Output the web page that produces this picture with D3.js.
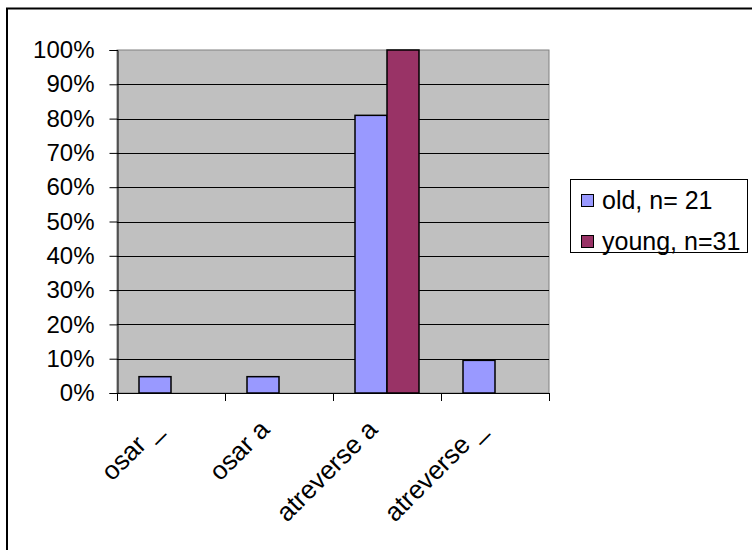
<!DOCTYPE html>
<html>
<head>
<meta charset="utf-8">
<script src="https://cdn.jsdelivr.net/npm/d3@7"></script>
<style>
  html, body { margin: 0; padding: 0; background: #fff; }
  svg { display: block; font-family: "Liberation Sans", Arial, sans-serif; }
</style>
</head>
<body>
<svg id="chart" width="752" height="550"></svg>
<script>
// Share of each construction by speaker group (percent)
const categories = ["osar _", "osar a", "atreverse a", "atreverse _"];
const seriesNames = ["old, n= 21", "young, n=31"];
const oldValues = [4.76, 4.76, 80.95, 9.52];
const youngValues = [0, 0, 100, 0];
const yTicks = [0, 10, 20, 30, 40, 50, 60, 70, 80, 90, 100];
const seriesColors = ["#9999FF", "#993366"];

const svg = d3.select("#chart");

// outer chart frame (continues past the right and bottom edges)
svg.append("rect")
  .attr("x", 7).attr("y", 8.5)
  .attr("width", 800).attr("height", 600)
  .attr("fill", "#fff")
  .attr("stroke", "#000").attr("stroke-width", 2);

const plot = { left: 117, right: 549, top: 50, bottom: 393 };

const x = d3.scaleBand().domain(categories).range([plot.left, plot.right]);
const x1 = d3.scaleBand().domain(seriesNames).range([0, x.bandwidth()]).paddingOuter(0.6875);
const y = d3.scaleLinear().domain([0, 100]).range([plot.bottom, plot.top]);

// plot background
svg.append("rect")
  .attr("x", plot.left).attr("y", plot.top)
  .attr("width", plot.right - plot.left).attr("height", plot.bottom - plot.top)
  .attr("fill", "#C0C0C0")
  .attr("stroke", "#808080").attr("stroke-width", 1);

// horizontal gridlines
svg.append("g")
  .selectAll("line")
  .data(yTicks.filter(t => t > 0 && t < 100))
  .join("line")
  .attr("x1", plot.left).attr("x2", plot.right)
  .attr("y1", d => Math.round(y(d)) + 0.5).attr("y2", d => Math.round(y(d)) + 0.5)
  .attr("stroke", "#000").attr("stroke-width", 1);

// bars
const table = categories.map((c, i) => ({
  category: c,
  values: [
    { series: seriesNames[0], value: oldValues[i], color: seriesColors[0] },
    { series: seriesNames[1], value: youngValues[i], color: seriesColors[1] }
  ]
}));

svg.append("g")
  .selectAll("g")
  .data(table)
  .join("g")
  .attr("transform", d => `translate(${x(d.category)},0)`)
  .selectAll("rect")
  .data(d => d.values.filter(v => v.value > 0))
  .join("rect")
  .attr("x", d => x1(d.series))
  .attr("y", d => y(d.value))
  .attr("width", x1.bandwidth())
  .attr("height", d => y(0) - y(d.value))
  .attr("fill", d => d.color)
  .attr("stroke", "#000").attr("stroke-width", 1.5);

// y axis
const yAxis = svg.append("g")
  .attr("transform", `translate(${plot.left + 0.5},0)`)
  .call(d3.axisLeft(y).tickValues(yTicks).tickFormat(d => d + "%").tickSize(8).tickPadding(15));
yAxis.select(".domain").attr("stroke", "#000");
yAxis.selectAll(".tick line").attr("stroke", "#000");
yAxis.selectAll("text")
  .attr("font-size", 24)
  .attr("font-family", "Liberation Sans, Arial, sans-serif")
  .attr("fill", "#000");

// x axis line with ticks at category boundaries
const xAxis = svg.append("g");
xAxis.append("line")
  .attr("x1", plot.left).attr("x2", plot.right)
  .attr("y1", plot.bottom + 0.5).attr("y2", plot.bottom + 0.5)
  .attr("stroke", "#000");
const boundaries = categories.map(c => x(c)).concat([x(categories[categories.length - 1]) + x.bandwidth()]);
xAxis.selectAll("line.tick")
  .data(boundaries)
  .join("line")
  .attr("class", "tick")
  .attr("x1", d => Math.round(d) + 0.5).attr("x2", d => Math.round(d) + 0.5)
  .attr("y1", plot.bottom).attr("y2", plot.bottom + 8)
  .attr("stroke", "#000");

// rotated category labels
xAxis.selectAll("text")
  .data(categories)
  .join("text")
  .attr("transform", d => `translate(${x(d) + x.bandwidth() / 2 - 8},${plot.bottom + 38}) rotate(-45)`)
  .attr("text-anchor", "end")
  .attr("font-size", 26)
  .attr("fill", "#000")
  .text(d => d);

// legend
const legend = svg.append("g");
legend.append("rect")
  .attr("x", 570.5).attr("y", 179.5)
  .attr("width", 177).attr("height", 73)
  .attr("fill", "#fff").attr("stroke", "#000").attr("stroke-width", 1);
const rows = legend.selectAll("g.row")
  .data(seriesNames)
  .join("g")
  .attr("class", "row")
  .attr("transform", (d, i) => `translate(0,${200.5 + i * 41})`);
rows.append("rect")
  .attr("x", 581.5).attr("y", -6)
  .attr("width", 12).attr("height", 12)
  .attr("fill", (d, i) => seriesColors[i])
  .attr("stroke", "#000").attr("stroke-width", 1);
rows.append("text")
  .attr("x", 602).attr("y", 8.5)
  .attr("font-size", 25)
  .attr("fill", "#000")
  .text(d => d);
</script>
</body>
</html>
